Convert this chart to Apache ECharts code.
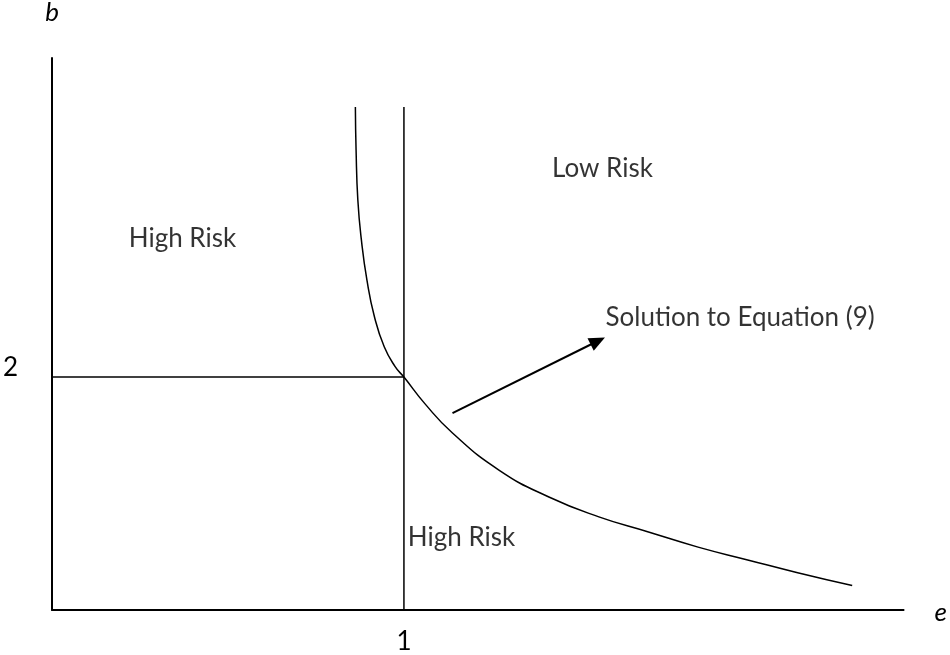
<!DOCTYPE html>
<html>
<head>
<meta charset="utf-8">
<script src="https://cdn.jsdelivr.net/npm/echarts@6/dist/echarts.min.js"></script>
<style>
  html, body { margin: 0; padding: 0; background: #fff; }
  #chart { width: 950px; height: 655px; }
</style>
</head>
<body>
<div id="chart"></div>
<script>
// solution curve of equation (9) as [e, b]
var curveE = [0.862, 0.864, 0.869, 0.879, 0.895, 0.916, 0.944, 0.975, 1.0, 1.06, 1.138, 1.271, 1.412, 1.554, 1.695, 1.836, 1.977, 2.119, 2.274];
var curveB = [4.32, 3.95, 3.52, 3.18, 2.83, 2.52, 2.26, 2.09, 2.0, 1.77, 1.52, 1.20, 0.97, 0.80, 0.67, 0.54, 0.43, 0.32, 0.21];

// reference lines e = 1 and b = 2
var vLine = [[1, 0], [1, 4.32]];
var hLine = [[0, 2], [1, 2]];

// arrow pointing at the label
var arrowFrom = [1.138, 1.69];
var arrowTo = [1.551, 2.31];

// region labels: [e, b, text]
var notes = [
  [0.218, 3.19, 'High Risk'],
  [1.421, 3.79, 'Low Risk'],
  [1.011, 0.62, 'High Risk'],
  [1.573, 2.51, 'Solution to Equation (9)']
];

var xTicks = [1];
var yTicks = [2];

var font = 'Lato';
var chart = echarts.init(document.getElementById('chart'));

var curve = curveE.map(function (e, i) { return [e, curveB[i]]; });

chart.setOption({
  animation: false,
  grid: { left: 50, right: 43, top: 58, bottom: 45 },
  xAxis: {
    type: 'value', min: 0, max: 2.42,
    name: 'e', nameLocation: 'end', nameGap: 31,
    nameTextStyle: { fontFamily: font, fontStyle: 'italic', fontSize: 26, color: '#000', verticalAlign: 'top', padding: [-10, 0, 0, 0] },
    axisLine: { onZero: false, lineStyle: { color: '#000', width: 2 } },
    axisTick: { show: false },
    splitLine: { show: false },
    axisLabel: { customValues: xTicks, margin: 19, fontFamily: font, fontSize: 26, color: '#000' }
  },
  yAxis: {
    type: 'value', min: 0, max: 4.74,
    name: 'b', nameLocation: 'end', nameGap: 32,
    nameTextStyle: { fontFamily: font, fontStyle: 'italic', fontSize: 26, color: '#000', align: 'center' },
    axisLine: { onZero: false, lineStyle: { color: '#000', width: 2 } },
    axisTick: { show: false },
    splitLine: { show: false },
    axisLabel: { customValues: yTicks, margin: 34, fontFamily: font, fontSize: 26, color: '#000', verticalAlign: 'bottom', padding: [0, 0, -4, 0] }
  },
  series: [
    {
      type: 'line', data: curve, smooth: 0.5, symbol: 'none',
      lineStyle: { color: '#000', width: 1.5 }
    },
    {
      type: 'line', data: vLine, symbol: 'none',
      lineStyle: { color: '#000', width: 1.5 }
    },
    {
      type: 'line', data: hLine, symbol: 'none',
      lineStyle: { color: '#000', width: 1.5 },
      markLine: {
        silent: true, symbol: ['none', 'triangle'], symbolSize: [14, 16],
        label: { show: false },
        lineStyle: { color: '#000', width: 2, type: 'solid' },
        data: [[{ coord: arrowFrom }, { coord: arrowTo }]]
      }
    },
    {
      type: 'scatter', symbolSize: 0,
      data: notes.map(function (n) { return { value: [n[0], n[1]], name: n[2] }; }),
      label: {
        show: true, position: 'right', distance: 0,
        formatter: '{b}', fontFamily: font, fontSize: 26, color: '#000'
      }
    }
  ]
});
</script>
</body>
</html>
